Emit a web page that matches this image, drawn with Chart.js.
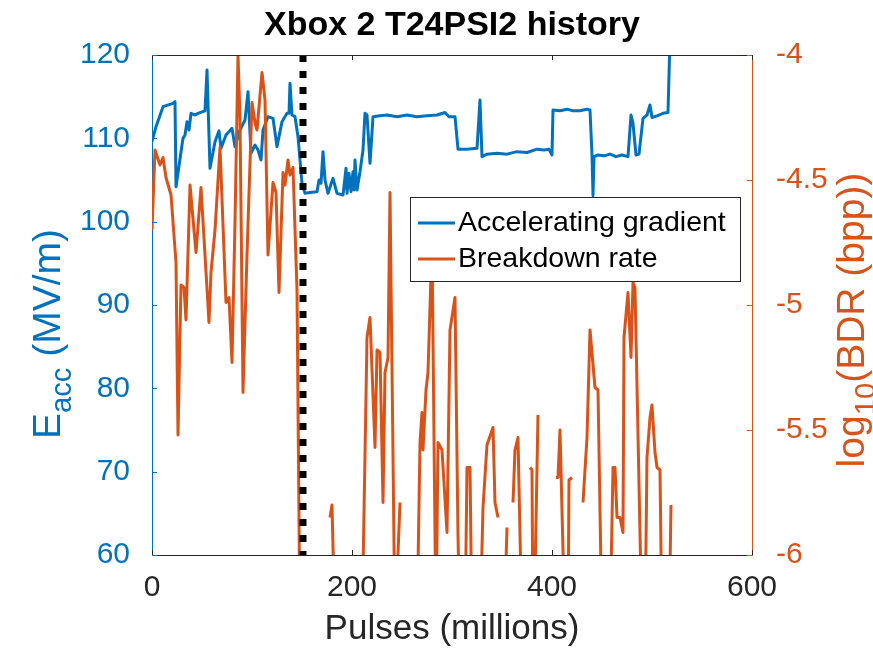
<!DOCTYPE html>
<html>
<head>
<meta charset="utf-8">
<title>Xbox 2 T24PSI2 history</title>
<script src="https://cdn.jsdelivr.net/npm/chart.js@4.4.1/dist/chart.umd.min.js"></script>
<style>
  html, body { margin: 0; padding: 0; background: #fff; }
</style>
</head>
<body>
<canvas id="historyChart" width="873" height="648"></canvas>
<script>
/* ---------- data ---------- */

// accelerating gradient, MV/m
const gradX = [0, 4, 11, 21, 23, 24, 31, 33, 35, 37, 39, 43, 46, 53, 55, 58, 63, 67, 69, 74,
  80, 83, 88, 93, 96, 99, 103, 106, 109, 111, 116, 121, 125, 130, 135, 137, 138, 140, 143, 146,
  150, 153, 158, 165, 167, 169, 171, 173, 176, 181, 185, 191, 194, 195, 197, 199, 201, 202, 203, 205,
  208, 211, 213, 215, 218, 221, 228, 235, 245, 255, 265, 275, 285, 293, 297, 303, 306, 315, 325, 328,
  330, 335, 345, 355, 365, 375, 385, 392, 397, 400, 401, 408, 415, 421, 428, 435, 438, 440, 441, 442,
  446, 452, 458, 464, 470, 476, 479, 481, 484, 487, 491, 495, 498, 500, 505, 511, 516, 518];
const gradY = [109.6, 111.4, 113.8, 114.2, 114.4, 104.2, 110.0, 110.4, 112.0, 111.0, 113.0, 112.8, 113.0, 113.3, 118.2, 106.4, 109.6, 110.9, 108.8, 110.4,
  111.2, 109.0, 111.0, 112.2, 115.6, 108.2, 109.2, 108.6, 107.4, 111.0, 112.6, 112.4, 109.0, 112.0, 113.0, 113.0, 116.6, 112.8, 112.6, 110.2,
  104.6, 103.4, 103.5, 103.6, 105.0, 104.6, 108.4, 105.0, 103.4, 105.2, 103.4, 103.2, 106.4, 103.4, 105.8, 103.6, 106.0, 103.8, 107.4, 103.8,
  106.0, 108.6, 113.0, 112.8, 107.0, 112.6, 112.7, 112.8, 112.6, 112.8, 112.6, 112.7, 112.8, 113.1, 112.6, 112.6, 108.7, 108.7, 108.8, 114.6,
  107.8, 108.1, 108.2, 108.1, 108.4, 108.3, 108.7, 108.6, 108.7, 108.0, 113.4, 113.3, 113.5, 113.3, 113.3, 113.5, 113.4, 108.0, 103.1, 107.8,
  108.0, 107.9, 108.1, 107.8, 108.0, 107.8, 112.8, 111.8, 108.0, 108.1, 112.4, 112.8, 114.0, 112.5, 112.7, 113.0, 113.1, 122.0];

// log10 of breakdown rate (bpp); null = no breakdowns in that interval
const bdrX = [0, 3, 8, 11, 14, 19, 24, 26, 29, 32, 34, 38, 44, 49, 57, 59, 63, 68, 74, 77,
  80, 83, 86, 88, 91, 95, 100, 103, 105, 110, 113, 116, 121, 124, 127, 131, 133, 136, 138, 141,
  145, 148, 160, 178, 180, 183, 195, 210, 215, 218, 223, 225, 228, 231, 233, 236, 238, 243, 248, 255,
  265, 268, 270, 271, 274, 276, 280, 284, 286, 290, 295, 298, 303, 306, 308, 311, 313, 315, 318, 320,
  328, 331, 335, 341, 343, 346, 349, 352, 355, 358, 361, 363, 366, 370, 374, 378, 380, 381, 382, 386,
  390, 404, 406, 408, 413, 416, 417, 420, 424, 431, 435, 438, 443, 446, 450, 458, 461, 463, 465, 468,
  471, 472, 476, 479, 481, 483, 490, 493, 495, 498, 500, 503, 505, 508, 510, 517, 519];
const bdrY = [-4.70, -4.38, -4.44, -4.41, -4.49, -4.56, -4.83, -5.52, -4.92, -4.93, -5.06, -4.52, -4.79, -4.53, -5.07, -4.87, -4.70, -4.37, -4.99, -4.97,
  -5.23, -4.67, -4.00, -4.25, -5.35, -4.80, -4.19, -4.27, -4.30, -4.07, -4.18, -4.80, -4.51, -4.55, -4.95, -4.47, -4.52, -4.42, -4.48, -4.45,
  -4.94, -6.30, null, -5.85, -5.80, -6.30, null, -6.30, -5.13, -5.05, -5.57, -5.18, -5.19, -5.79, -5.27, -5.21, -4.55, -6.30, -5.79, null,
  -6.30, -5.55, -5.43, -5.58, -5.34, -5.27, -4.75, -6.30, -5.55, -5.58, -5.91, -5.10, -4.97, -5.92, -6.30, null, -6.30, -5.65, -5.65, -6.30,
  -6.30, -5.81, -5.56, -5.49, -5.79, -5.85, null, -6.30, -5.89, null, -5.79, -5.58, -5.53, -6.30, null, -5.65, -5.66, -6.30, -6.30, -5.44,
  null, -5.69, -5.69, -5.50, -6.30, -6.30, -5.70, -5.69, null, -5.79, -5.53, -5.10, -5.33, -5.34, -6.30, -6.30, -5.65, -5.65, -5.85, -5.85,
  -5.91, -5.13, -4.95, -5.21, -4.91, -4.93, -6.30, -6.30, -5.61, -5.45, -5.40, -5.59, -5.65, -5.66, -6.30, -6.30, -5.80];

// dotted marker (millions of pulses)
const markerX = 151;

const xTicks = [0, 200, 400, 600];
const eaccTicks = [60, 70, 80, 90, 100, 110, 120];
const bdrTicks = [-6, -5.5, -5, -4.5, -4];

/* ---------- style ---------- */

const BLUE = "#0072BD";
const ORANGE = "#D95319";
const DARK = "#262626";
const FAMILY = "'Liberation Sans', Arial, Helvetica, sans-serif";
const TICK_FONT = { size: 30, family: FAMILY };

function toPoints(xs, ys) {
    return xs.map(function (x, i) { return { x: x, y: ys[i] }; });
}

function setTicks(values) {
    return function (scale) {
        scale.ticks = values.map(function (v) { return { value: v }; });
    };
}

function plainLabel(v) {
    return String(v);
}

// draws a label with one subscript run, rotated to read bottom-to-top
function drawSubLabel(ctx, cx, cy, parts, size) {
    const subSize = size * 0.75;
    ctx.save();
    ctx.translate(cx, cy);
    ctx.rotate(-Math.PI / 2);
    let total = 0;
    parts.forEach(function (p) {
        ctx.font = (p.sub ? subSize : size) + "px " + FAMILY;
        p.w = ctx.measureText(p.text).width;
        total += p.w;
    });
    let x = -total / 2;
    ctx.textAlign = "left";
    ctx.textBaseline = "alphabetic";
    parts.forEach(function (p) {
        ctx.font = (p.sub ? subSize : size) + "px " + FAMILY;
        ctx.fillText(p.text, x, p.sub ? size * 0.28 : 0);
        x += p.w;
    });
    ctx.restore();
}

const decorations = {
    id: "decorations",
    afterDraw(chart) {
        const ctx = chart.ctx;
        const a = chart.chartArea;
        const sx = chart.scales.x, sl = chart.scales.y, sr = chart.scales.y2;
        const tick = 5;

        ctx.save();
        // top frame line
        ctx.strokeStyle = DARK;
        ctx.lineWidth = 1;
        ctx.beginPath();
        ctx.moveTo(a.left, a.top + 0.5);
        ctx.lineTo(a.right, a.top + 0.5);
        ctx.stroke();

        // inward tick marks
        xTicks.forEach(function (v) {
            const px = Math.round(sx.getPixelForValue(v)) + 0.5;
            ctx.beginPath();
            ctx.moveTo(px, a.bottom); ctx.lineTo(px, a.bottom - tick);
            ctx.moveTo(px, a.top); ctx.lineTo(px, a.top + tick);
            ctx.stroke();
        });
        ctx.strokeStyle = BLUE;
        eaccTicks.forEach(function (v) {
            const py = Math.round(sl.getPixelForValue(v)) + 0.5;
            ctx.beginPath();
            ctx.moveTo(a.left, py); ctx.lineTo(a.left + tick, py);
            ctx.stroke();
        });
        ctx.strokeStyle = ORANGE;
        bdrTicks.forEach(function (v) {
            const py = Math.round(sr.getPixelForValue(v)) + 0.5;
            ctx.beginPath();
            ctx.moveTo(a.right, py); ctx.lineTo(a.right - tick, py);
            ctx.stroke();
        });

        // title and x label
        ctx.fillStyle = "#000";
        ctx.textAlign = "center";
        ctx.textBaseline = "alphabetic";
        ctx.font = "bold 34px " + FAMILY;
        ctx.fillText("Xbox 2 T24PSI2 history", (a.left + a.right) / 2, 35);
        ctx.fillStyle = DARK;
        ctx.font = "35px " + FAMILY;
        ctx.fillText("Pulses (millions)", (a.left + a.right) / 2, 639);

        // y labels with subscripts
        ctx.fillStyle = BLUE;
        drawSubLabel(ctx, 60, 334,
            [{ text: "E" }, { text: "acc", sub: true }, { text: " (MV/m)" }], 39);
        ctx.fillStyle = ORANGE;
        drawSubLabel(ctx, 864, 320,
            [{ text: "log" }, { text: "10", sub: true }, { text: "(BDR (bpp))" }], 39);

        // legend box
        const lx = 410, ly = 197, lw = 330, lh = 84;
        ctx.fillStyle = "#fff";
        ctx.fillRect(lx, ly, lw, lh);
        ctx.strokeStyle = DARK;
        ctx.lineWidth = 1;
        ctx.strokeRect(lx + 0.5, ly + 0.5, lw, lh);
        const entries = [
            { label: "Accelerating gradient", color: BLUE, y: ly + 26 },
            { label: "Breakdown rate", color: ORANGE, y: ly + 62 }
        ];
        ctx.font = "28.5px " + FAMILY;
        ctx.textAlign = "left";
        ctx.textBaseline = "middle";
        entries.forEach(function (e) {
            ctx.strokeStyle = e.color;
            ctx.lineWidth = 3;
            ctx.beginPath();
            ctx.moveTo(lx + 8, e.y);
            ctx.lineTo(lx + 45, e.y);
            ctx.stroke();
            ctx.fillStyle = "#000";
            ctx.fillText(e.label, lx + 48, e.y);
        });
        ctx.restore();
    }
};

/* ---------- chart ---------- */

document.addEventListener("DOMContentLoaded", function () {

    const ctx = document.getElementById("historyChart");

    new Chart(ctx, {
        type: "line",

        data: {
            datasets: [
                {
                    label: "marker",
                    data: [{ x: markerX, y: 120 }, { x: markerX, y: 60 }],
                    yAxisID: "y",
                    borderColor: "#000",
                    borderWidth: 7,
                    borderDash: [7, 9],
                    borderCapStyle: "butt",
                    pointRadius: 0
                },
                {
                    label: "Breakdown rate",
                    data: toPoints(bdrX, bdrY),
                    yAxisID: "y2",
                    borderColor: ORANGE,
                    borderWidth: 3,
                    borderJoinStyle: "round",
                    pointRadius: 0,
                    spanGaps: false
                },
                {
                    label: "Accelerating gradient",
                    data: toPoints(gradX, gradY),
                    yAxisID: "y",
                    borderColor: BLUE,
                    borderWidth: 3,
                    borderJoinStyle: "round",
                    pointRadius: 0
                }
            ]
        },

        options: {
            responsive: false,
            animation: false,
            layout: { padding: { top: 55, left: 0, right: 0, bottom: 0 } },

            scales: {
                x: {
                    type: "linear",
                    min: 0,
                    max: 600,
                    afterBuildTicks: setTicks(xTicks),
                    afterFit: function (s) { s.height = 93; },
                    ticks: {
                        font: TICK_FONT,
                        color: DARK,
                        padding: 7,
                        maxRotation: 0,
                        callback: plainLabel
                    },
                    grid: { display: false },
                    border: { color: DARK, width: 1 }
                },
                y: {
                    position: "left",
                    min: 60,
                    max: 120,
                    afterBuildTicks: setTicks(eaccTicks),
                    afterFit: function (s) { s.width = 152; },
                    ticks: {
                        font: TICK_FONT,
                        color: BLUE,
                        padding: 14,
                        callback: plainLabel
                    },
                    grid: { display: false },
                    border: { color: BLUE, width: 1 }
                },
                y2: {
                    position: "right",
                    min: -6,
                    max: -4,
                    afterBuildTicks: setTicks(bdrTicks),
                    afterFit: function (s) { s.width = 121; },
                    ticks: {
                        font: TICK_FONT,
                        color: ORANGE,
                        padding: 16,
                        callback: plainLabel
                    },
                    grid: { display: false },
                    border: { color: ORANGE, width: 1 }
                }
            },

            plugins: {
                legend: { display: false },
                title: { display: false },
                tooltip: { enabled: false }
            }
        },

        plugins: [decorations]
    });

});
</script>
</body>
</html>
